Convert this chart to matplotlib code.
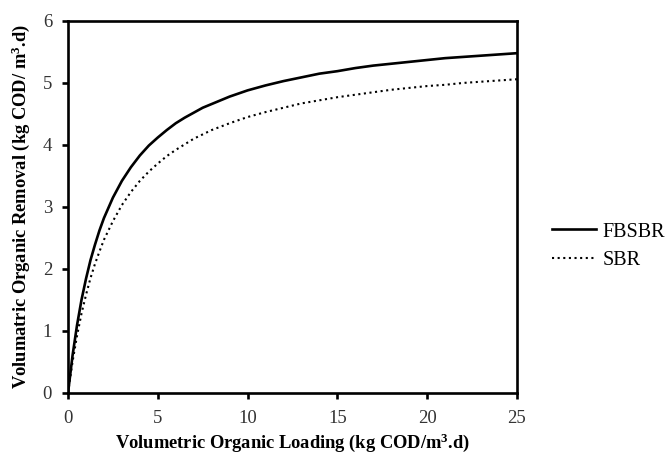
import numpy as np
import matplotlib
matplotlib.use('Agg')
import matplotlib.pyplot as plt

plt.rcParams['font.family'] = ['Liberation Serif', 'DejaVu Serif']
plt.rcParams['mathtext.fontset'] = 'custom'
plt.rcParams['mathtext.rm'] = 'Liberation Serif'
plt.rcParams['mathtext.bf'] = 'Liberation Serif:bold'

# volumetric organic loading (kg COD/m3.d)
loading = [0, 0.25, 0.5, 0.75, 1, 1.25, 1.5, 1.75, 2, 2.5, 3, 3.5, 4, 4.5,
           5, 5.5, 6, 6.5, 7, 7.5, 8, 9, 10, 11, 12, 13, 14, 15, 16, 17,
           18, 19, 20, 21, 22, 23, 24, 25]

# volumetric organic removal
fbsbr = [0, 0.60, 1.09, 1.50, 1.84, 2.14, 2.39, 2.62, 2.82, 3.15, 3.42, 3.64,
         3.83, 3.99, 4.12, 4.24, 4.35, 4.44, 4.52, 4.60, 4.66, 4.78, 4.88,
         4.96, 5.03, 5.09, 5.15, 5.19, 5.24, 5.28, 5.31, 5.34, 5.37, 5.40,
         5.42, 5.44, 5.46, 5.48]
sbr = [0, 0.50, 0.92, 1.28, 1.58, 1.85, 2.08, 2.28, 2.47, 2.77, 3.03, 3.24,
       3.42, 3.57, 3.70, 3.82, 3.92, 4.01, 4.10, 4.17, 4.24, 4.35, 4.45,
       4.53, 4.60, 4.67, 4.72, 4.77, 4.81, 4.85, 4.89, 4.92, 4.95, 4.97,
       5.00, 5.02, 5.04, 5.06]

xticks = [0, 5, 10, 15, 20, 25]
yticks = [0, 1, 2, 3, 4, 5, 6]

fig = plt.figure(figsize=(6.67, 4.66), dpi=100)
ax = fig.add_axes([0.102, 0.157, 0.673, 0.798])

ax.plot(loading, fbsbr, color='black', lw=1.9, label='FBSBR')
ax.plot(loading, sbr, color='black', lw=1.5, linestyle=(0, (1, 1.7)),
        label='SBR')

ax.set_xlim(0, 25)
ax.set_ylim(0, 6)
ax.set_xticks(xticks)
ax.set_yticks(yticks)

for s in ax.spines.values():
    s.set_linewidth(1.9)
ax.tick_params(direction='out', length=4.5, width=1.9, labelsize=13.5,
               labelcolor='#333333')
ax.tick_params(axis='x', pad=8)
ax.tick_params(axis='y', pad=7)

ax.set_xlabel(r'Volumetric Organic Loading (kg COD/m$\mathbf{^3}$.d)',
              fontsize=13.3, fontweight='bold', labelpad=3)
ax.set_ylabel(r'Volumatric Organic Removal (kg COD/ m$\mathbf{^3}$.d)',
              fontsize=13.3, fontweight='bold', labelpad=8)

fig.legend(loc='center left', bbox_to_anchor=(0.8276, 0.472), frameon=False,
           fontsize=14.5, handlelength=2.2, handletextpad=0.3,
           borderpad=0, borderaxespad=0, labelspacing=0.45)

fig.savefig('out.png', dpi=100)
